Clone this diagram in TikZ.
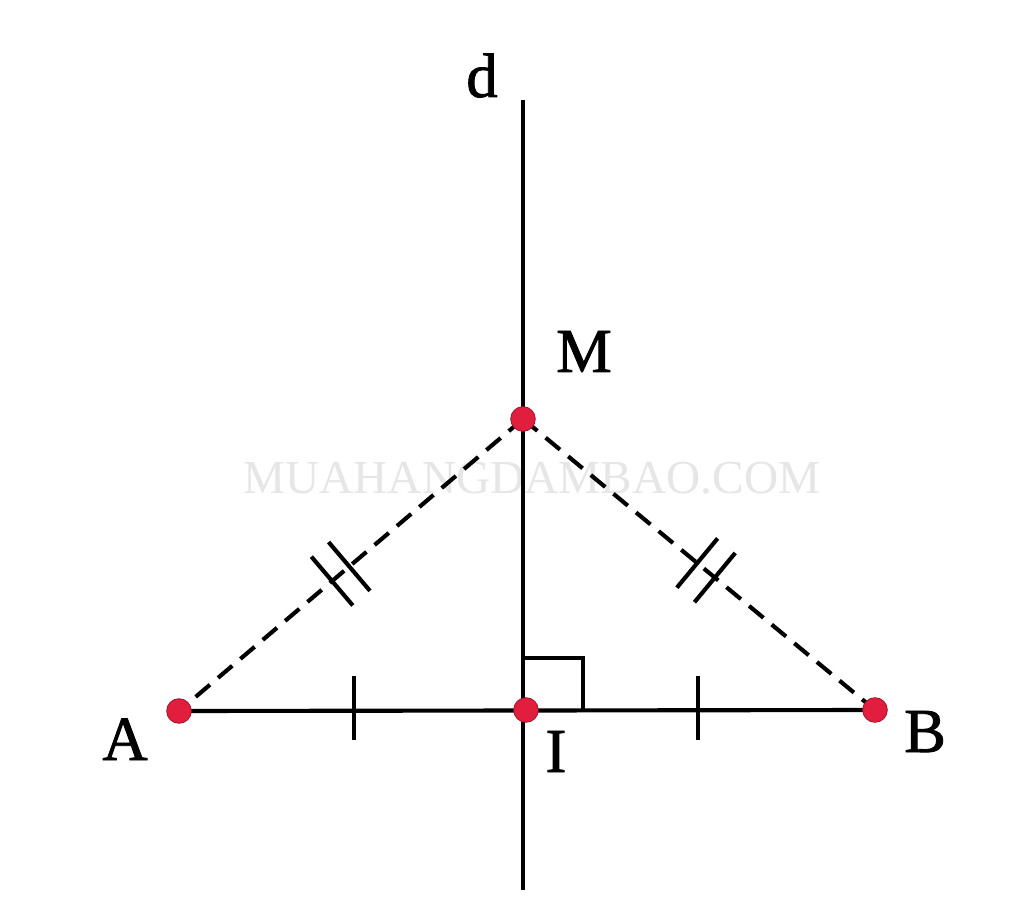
\documentclass[tikz,border=0pt]{standalone}
\usepackage{fontspec}
\setmainfont{Liberation Serif}
\newfontfamily\lblfont{Liberation Serif}[FakeBold=1.3]
\usetikzlibrary{calc}
\definecolor{dotred}{RGB}{226,30,62}
\definecolor{wm}{RGB}{230,230,230}
\tikzset{
  ln/.style={line width=3.1pt, black},
  dash line/.style={line width=3.1pt, black, dash pattern=on 14pt off 8pt},
  tick/.style={line width=3.1pt, black},
  dot/.style={circle, fill=dotred, draw=dotred!70!black, line width=0.6pt, inner sep=0pt, minimum size=18.5pt},
  lbl/.style={font=\lblfont\fontsize{47}{56}\selectfont, anchor=base, inner sep=0pt},
  wmark/.style={font=\fontsize{35.5}{42}\selectfont, text=wm, inner sep=0pt}
}
\begin{document}
\begin{tikzpicture}[x=0.75pt, y=-0.75pt]
\useasboundingbox (0,0) rectangle (1024,923);
\fill[white] (0,0) rectangle (1024,923);
% watermark
\node[wmark] (wmk) at (532,478) {MUAHANGDAMBAO.COM};
% points
\coordinate (A) at (179,711);
\coordinate (B) at (875,710);
\coordinate (M) at (523,419);
\coordinate (I) at (523,710);
\coordinate (dtop) at (523,100);
\coordinate (dbot) at (523,890);
% line d and segment AB
\draw[ln] (dtop) -- (dbot);
\draw[ln] (A) -- (B);
% dashed MA, MB
\draw[dash line] (M) -- (A);
\draw[dash line] (M) -- (B);
% right angle
\draw[ln] (523,658) -- (583,658) -- (583,710);
% single ticks on AB
\draw[tick] (354,676) -- (354,740);
\draw[tick] (698,676) -- (698,740);
% double ticks on AM
\coordinate (a1) at ($(A)!0.445!(M)$);
\coordinate (a2) at ($(A)!0.495!(M)$);
\draw[tick] ($(a1)!24pt!90:(M)$) -- ($(a1)!24pt!-90:(M)$);
\draw[tick] ($(a2)!24pt!90:(M)$) -- ($(a2)!24pt!-90:(M)$);
% double ticks on BM
\coordinate (b1) at ($(M)!0.495!(B)$);
\coordinate (b2) at ($(M)!0.545!(B)$);
\draw[tick] ($(b1)!24pt!90:(B)$) -- ($(b1)!24pt!-90:(B)$);
\draw[tick] ($(b2)!24pt!90:(B)$) -- ($(b2)!24pt!-90:(B)$);
% dots
\node[dot] (pA) at (A) {};
\node[dot] (pB) at (B) {};
\node[dot] (pM) at (M) {};
\node[dot] (pI) at (526,710) {};
% labels
\node[lbl] (ld) at (482,97) {d};
\node[lbl] (lM) at (584,372) {M};
\node[lbl] (lA) at (125,760) {A};
\node[lbl] (lB) at (925,752) {B};
\node[lbl] (lI) at (556,772) {I};
\end{tikzpicture}
\end{document}
